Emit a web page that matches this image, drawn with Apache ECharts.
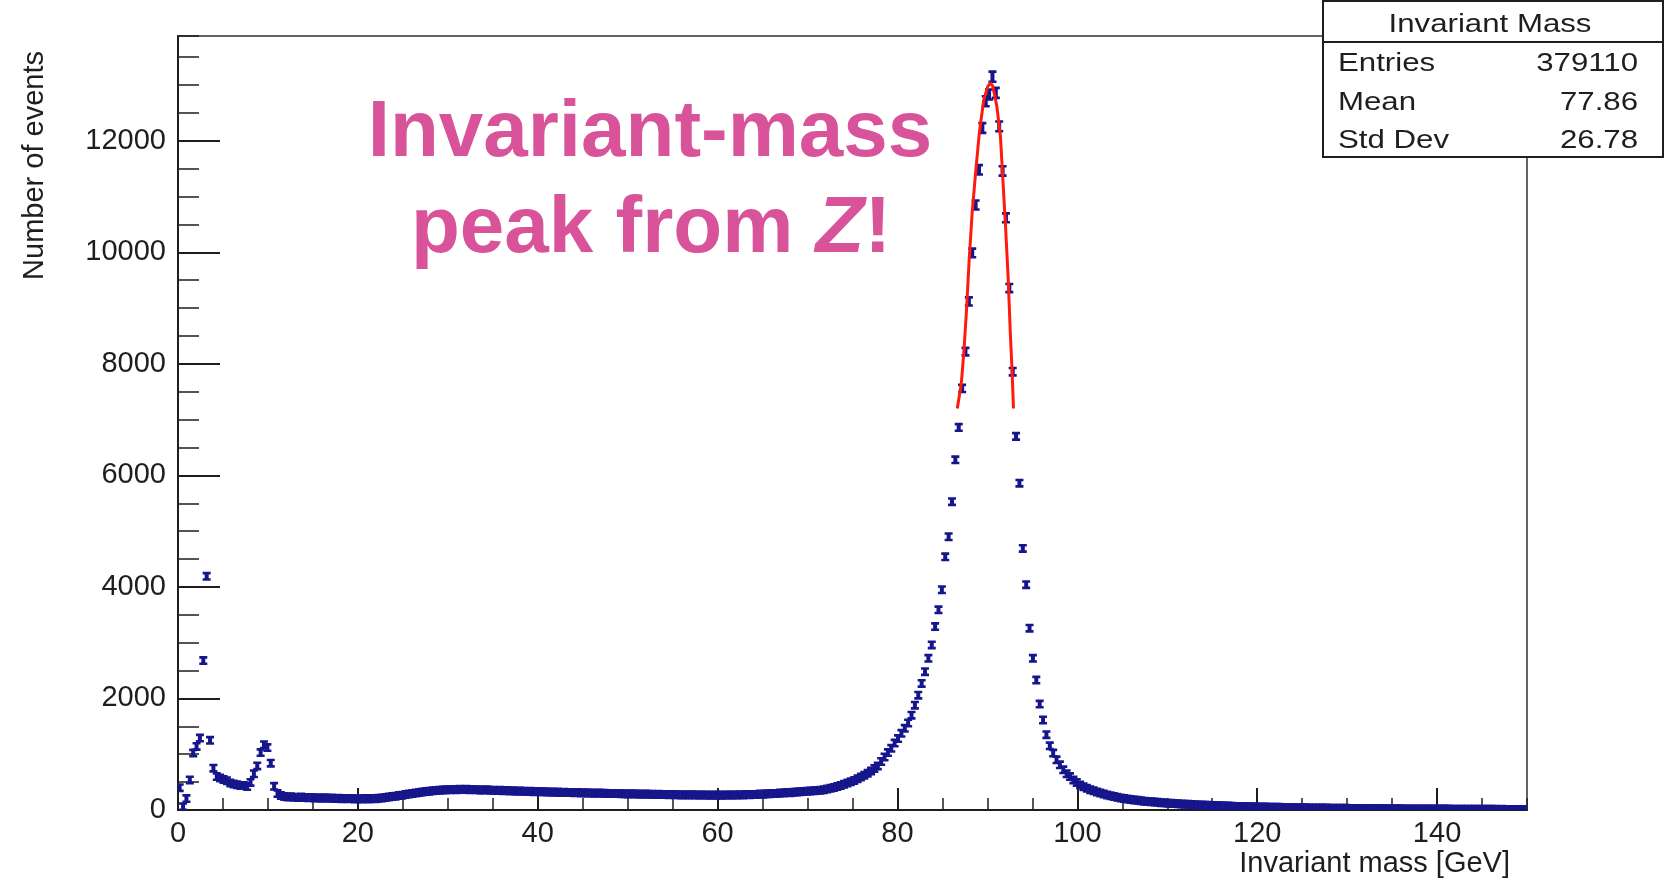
<!DOCTYPE html>
<html>
<head>
<meta charset="utf-8">
<script src="https://cdn.jsdelivr.net/npm/echarts@6.0.0/dist/echarts.min.js"></script>
<style>
  html, body { margin: 0; padding: 0; background: #fff; }
  #chart { width: 1665px; height: 894px; }
</style>
</head>
<body>
<div id="chart"></div>
<script>
// histogram: 400 bins of 0.375 GeV between 0 and 150 GeV
const BIN_WIDTH = 0.375;
const counts = [
  400, 60, 205, 540, 1020, 1140, 1290, 2680, 4190, 1250,
  750, 600, 575, 545, 525, 485, 465, 455, 440, 440,
  420, 495, 650, 790, 1030, 1170, 1120, 840, 425, 295,
  258, 240, 232, 236, 228, 226, 231, 222, 219, 225,
  216, 220, 212, 218, 209, 214, 206, 211, 203, 208,
  200, 205, 198, 203, 197, 204, 199, 207, 203, 212,
  216, 224, 231, 240, 248, 259, 266, 278, 285, 296,
  304, 315, 322, 330, 336, 344, 349, 352, 358, 362,
  365, 368, 361, 372, 366, 370, 364, 369, 362, 360,
  357, 361, 353, 356, 349, 352, 346, 348, 342, 345,
  338, 341, 335, 332, 336, 329, 331, 326, 329, 322,
  325, 319, 321, 316, 318, 313, 315, 310, 312, 307,
  309, 304, 306, 301, 303, 299, 300, 296, 298, 294,
  296, 291, 293, 289, 291, 286, 288, 284, 286, 282,
  284, 279, 281, 277, 279, 275, 277, 273, 275, 271,
  273, 270, 272, 268, 270, 267, 269, 266, 268, 266,
  268, 265, 269, 267, 271, 268, 273, 271, 276, 274,
  280, 279, 285, 284, 291, 290, 298, 298, 306, 307,
  312, 310, 318, 322, 326, 331, 334, 340, 343, 348,
  352, 364, 376, 390, 405, 422, 440, 460, 482, 505,
  530, 560, 590, 625, 660, 700, 745, 790, 870, 950,
  1030, 1106, 1200, 1280, 1375, 1465, 1560, 1700, 1880, 2060,
  2270, 2480, 2720, 2960, 3290, 3590, 3950, 4540, 4900, 5530,
  6280, 6860, 7560, 8220, 9120, 9990, 10850, 11480, 12230, 12710,
  12830, 13150, 12860, 12260, 11460, 10620, 9360, 7860, 6700, 5860,
  4690, 4040, 3260, 2720, 2330, 1900, 1614, 1350, 1150, 1020,
  900, 810, 720, 650, 600, 540, 495, 450, 418, 388,
  365, 345, 322, 303, 287, 270, 254, 240, 228, 216,
  206, 197, 189, 181, 173, 166, 159, 153, 148, 142,
  137, 132, 128, 123, 119, 115, 111, 108, 104, 101,
  97, 95, 91, 90, 85, 85, 80, 80, 76, 75,
  72, 70, 69, 65, 64, 63, 60, 59, 58, 55,
  55, 53, 52, 51, 49, 48, 48, 45, 45, 43,
  42, 42, 40, 39, 39, 38, 37, 36, 36, 34,
  34, 33, 33, 31, 31, 30, 30, 29, 28, 28,
  27, 28, 26, 25, 25, 24, 25, 23, 23, 22,
  22, 21, 22, 20, 20, 20, 19, 19, 18, 19,
  18, 17, 17, 17, 16, 17, 16, 15, 15, 15,
  14, 15, 14, 13, 13, 14, 13, 12, 12, 13,
  12, 11, 12, 11, 11, 10, 11, 10, 10, 10
];

// fitted curve
const fitMass = [86.65, 87.1, 87.4, 87.7, 87.95, 88.3, 88.65, 89.1, 89.6, 90.05,
  90.35, 90.6, 91.05, 91.45, 91.7, 92.0, 92.3, 92.55, 92.75, 92.9];
const fitValues = [7200, 7650, 8250, 9030, 9800, 10700, 11360, 12140, 12740, 12980,
  13040, 12980, 12620, 12080, 11360, 10520, 9570, 8550, 7860, 7200];

const statsTitle = "Invariant Mass";
const statsLabels = ["Entries", "Mean", "Std Dev"];
const statsValues = ["379110", "77.86", "26.78"];

const FONT = "'Liberation Sans', Arial, Helvetica, sans-serif";
const INK = "#1e1e1e";
const MARKER = "#16168c";
const PINK = "#d9539a";

const points = counts.map((v, i) => [(i + 0.5) * BIN_WIDTH, v]);
const fitLine = fitMass.map((m, i) => [m, fitValues[i]]);

// I-beam shaped marker with poisson error bar
function renderPoint(params, api) {
  const x = api.value(0);
  const v = api.value(1);
  const err = Math.sqrt(v);
  const c = api.coord([x, v]);
  const top = Math.min(api.coord([x, v + err])[1], c[1] - 4.5);
  const bot = Math.max(api.coord([x, v - err])[1], c[1] + 4.5);
  const hw = 4, cap = 2.6, bar = 2;
  const px = c[0];
  return {
    type: "polygon",
    shape: {
      points: [
        [px - hw, top], [px + hw, top], [px + hw, top + cap], [px + bar, top + cap],
        [px + bar, bot - cap], [px + hw, bot - cap], [px + hw, bot], [px - hw, bot],
        [px - hw, bot - cap], [px - bar, bot - cap], [px - bar, top + cap], [px - hw, top + cap]
      ]
    },
    style: { fill: MARKER }
  };
}

const chart = echarts.init(document.getElementById("chart"));

const axisLabelStyle = {
  fontSize: 29, color: INK, fontFamily: FONT,
  formatter: (v) => String(v)
};

chart.setOption({
  animation: false,
  backgroundColor: "#fff",
  grid: {
    left: 178, right: 138, top: 36, bottom: 84,
    show: true, borderColor: "#333", borderWidth: 1.5,
    containLabel: false, outerBoundsMode: "none"
  },
  xAxis: [
    {
      type: "value", min: 0, max: 150, interval: 20, position: "bottom",
      axisLine: { show: true, onZero: false, lineStyle: { color: INK, width: 2 } },
      axisTick: { show: true, inside: true, length: 22, lineStyle: { color: INK, width: 2 } },
      axisLabel: Object.assign({ margin: 9, showMaxLabel: false }, axisLabelStyle),
      splitLine: { show: false }
    },
    {
      type: "value", min: 0, max: 150, interval: 5, position: "bottom",
      axisLine: { show: false },
      axisTick: { show: true, inside: true, length: 12, lineStyle: { color: INK, width: 1.5 } },
      axisLabel: { show: false },
      splitLine: { show: false }
    }
  ],
  yAxis: [
    {
      type: "value", min: 0, max: 13880, interval: 2000, position: "left",
      axisLine: { show: true, onZero: false, lineStyle: { color: INK, width: 2 } },
      axisTick: { show: true, inside: true, length: 42, lineStyle: { color: INK, width: 2 } },
      axisLabel: Object.assign({ margin: 12, showMaxLabel: false }, axisLabelStyle),
      splitLine: { show: false }
    },
    {
      type: "value", min: 0, max: 13880, interval: 500, position: "left",
      axisLine: { show: false },
      axisTick: { show: true, inside: true, length: 21, lineStyle: { color: INK, width: 1.5 } },
      axisLabel: { show: false },
      splitLine: { show: false }
    }
  ],
  series: [
    {
      name: "Invariant Mass",
      type: "custom",
      xAxisIndex: 0, yAxisIndex: 0,
      renderItem: renderPoint,
      data: points,
      clip: true,
      z: 3
    },
    {
      name: "fit",
      type: "line",
      xAxisIndex: 0, yAxisIndex: 0,
      data: fitLine,
      showSymbol: false,
      smooth: false,
      lineStyle: { color: "#ff1a0d", width: 3 },
      z: 4
    }
  ],
  graphic: [
    {
      type: "text", x: 650, y: 134, z: 50,
      style: {
        text: "Invariant-mass", fill: PINK, font: "bold 80px " + FONT,
        textAlign: "center", textVerticalAlign: "middle"
      }
    },
    {
      type: "text", x: 651, y: 230, z: 50,
      style: {
        text: "{n|peak from }{i|Z}{n|!}",
        textAlign: "center", textVerticalAlign: "middle",
        rich: {
          n: { fill: PINK, fontSize: 80, fontWeight: "bold", fontFamily: FONT },
          i: { fill: PINK, fontSize: 80, fontWeight: "bold", fontStyle: "italic", fontFamily: FONT }
        }
      }
    },
    {
      type: "text", x: 1510, y: 864, z: 50,
      style: {
        text: "Invariant mass [GeV]", fill: INK, font: "29px " + FONT,
        textAlign: "right", textVerticalAlign: "middle"
      }
    },
    {
      type: "text", x: 35, y: 51, rotation: Math.PI / 2, z: 50,
      style: {
        text: "Number of events", fill: INK, font: "29px " + FONT,
        textAlign: "right", textVerticalAlign: "middle"
      }
    },
    {
      type: "rect", z: 60,
      shape: { x: 1323, y: 1, width: 340, height: 156 },
      style: { fill: "#fff", stroke: INK, lineWidth: 2 }
    },
    {
      type: "line", z: 61,
      shape: { x1: 1323, y1: 42, x2: 1663, y2: 42 },
      style: { stroke: INK, lineWidth: 2 }
    },
    {
      type: "text", x: 1490, y: 25, z: 62, scaleX: 1.2,
      style: {
        text: statsTitle, fill: INK, font: "26px " + FONT,
        textAlign: "center", textVerticalAlign: "middle"
      }
    }
  ].concat(statsLabels.map((label, i) => ({
    type: "text", x: 1338, y: 64 + i * 38.5, z: 62, scaleX: 1.2,
    style: {
      text: label, fill: INK, font: "26px " + FONT,
      textAlign: "left", textVerticalAlign: "middle"
    }
  }))).concat(statsValues.map((val, i) => ({
    type: "text", x: 1638, y: 64 + i * 38.5, z: 62, scaleX: 1.2,
    style: {
      text: val, fill: INK, font: "26px " + FONT,
      textAlign: "right", textVerticalAlign: "middle"
    }
  })))
});
</script>
</body>
</html>
